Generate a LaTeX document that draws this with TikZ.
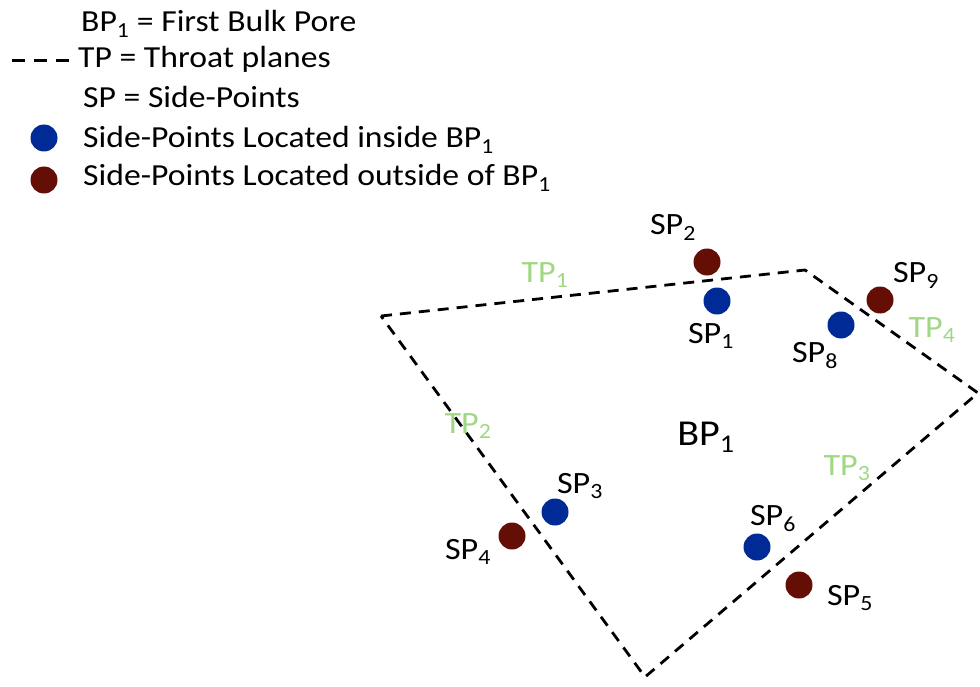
\documentclass[tikz,border=0pt]{standalone}
\usepackage{fontspec}
\setmainfont{Carlito}[FakeStretch=1.1]
\definecolor{inblue}{RGB}{0,42,150}
\definecolor{outred}{RGB}{100,14,6}
\definecolor{tpgreen}{RGB}{160,215,130}
\newcommand{\sbs}[1]{\textsubscript{#1}}
\begin{document}
\begin{tikzpicture}[x=1pt,y=-1pt,
  lbl/.style={font=\fontsize{31}{34}\selectfont, inner sep=0pt, anchor=base},
  leg/.style={font=\fontsize{30.6}{34}\selectfont, inner sep=0pt, anchor=base west},
  tp/.style={lbl, text=tpgreen},
  indot/.style={circle, fill=inblue, inner sep=0pt, minimum size=27pt},
  outdot/.style={circle, fill=outred, inner sep=0pt, minimum size=27pt},
  throat/.style={dash pattern=on 11pt off 8pt, line width=2.8pt, black},
  legdash/.style={dash pattern=on 13pt off 9pt, line width=3pt, black}]
\useasboundingbox (0,0) rectangle (980,687);
% legend
\node[leg] (l1) at (81,32) {BP\sbs{1} = First Bulk Pore};
\coordinate (d1) at (12,61);
\coordinate (d2) at (69,61);
\draw[legdash] (d1) -- (d2);
\node[leg] (l2) at (78,68) {TP = Throat planes};
\node[leg] (l3) at (83,108) {SP = Side-Points};
\node[indot] (lb) at (44,138) {};
\node[leg] (l4) at (83,148) {Side-Points Located inside BP\sbs{1}};
\node[outdot] (lr) at (44,180) {};
\node[leg] (l5) at (83,186) {Side-Points Located outside of BP\sbs{1}};
% polygon
\coordinate (v1) at (381,316);
\coordinate (v2) at (805,270);
\coordinate (v3) at (978,393);
\coordinate (v4) at (645,677);
\draw[throat] (v1) -- (v2) -- (v3) -- (v4) -- cycle;
% points
\node[outdot] (sp2) at (707,262) {};
\node[indot] (sp1) at (717,301) {};
\node[outdot] (sp9) at (880,300) {};
\node[indot] (sp8) at (841,325) {};
\node[indot] (sp3) at (555,512) {};
\node[outdot] (sp4) at (512,536) {};
\node[indot] (sp6) at (757,547) {};
\node[outdot] (sp5) at (799,585) {};
% labels
\node[lbl] (t2) at (673,235) {SP\sbs{2}};
\node[lbl] (t1) at (711,343) {SP\sbs{1}};
\node[lbl] (t9) at (916,283) {SP\sbs{9}};
\node[lbl] (t8) at (815,362) {SP\sbs{8}};
\node[lbl] (t3) at (580,493) {SP\sbs{3}};
\node[lbl] (t4) at (468,559) {SP\sbs{4}};
\node[lbl] (t6) at (773,525) {SP\sbs{6}};
\node[lbl] (t5) at (850,605) {SP\sbs{5}};
\node[tp] (tp1) at (545,282) {TP\sbs{1}};
\node[tp] (tp4) at (932,337) {TP\sbs{4}};
\node[tp] (tp2) at (468,433) {TP\sbs{2}};
\node[tp] (tp3) at (847,475) {TP\sbs{3}};
\node[lbl, font=\fontsize{36.5}{40}\selectfont] (bp) at (706,445) {BP\sbs{1}};
\end{tikzpicture}
\end{document}
